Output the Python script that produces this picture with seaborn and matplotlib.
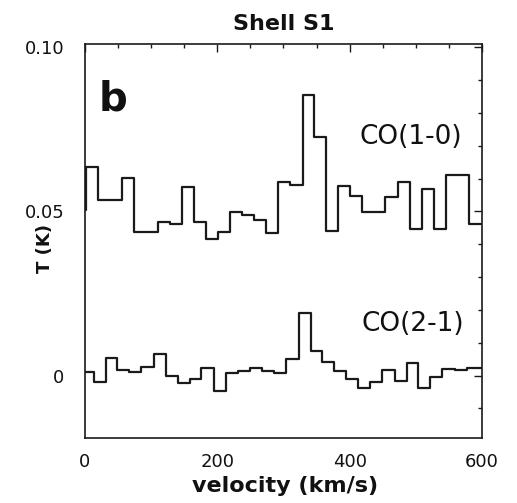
import matplotlib
matplotlib.use("Agg")
import matplotlib.pyplot as plt
import seaborn as sns
import pandas as pd
from matplotlib.ticker import MultipleLocator, FixedLocator

# ---- data ----
# CO(1-0): channel edges (km/s) and brightness temperature (K) per channel
co10_edges = [2, 20, 38, 56, 74, 92, 110, 128, 147, 165, 183, 201, 219, 237, 255,
              273, 291, 310, 329, 346, 364, 382, 400, 418, 436, 454, 473, 491,
              509, 527, 545, 563, 581, 599]
co10_T = [0.0635, 0.0534, 0.0534, 0.0601, 0.0437, 0.0437, 0.0467, 0.0463, 0.0574,
          0.0467, 0.0415, 0.0437, 0.0498, 0.0488, 0.0473, 0.0433, 0.0589, 0.0582,
          0.0854, 0.0727, 0.0442, 0.0579, 0.0546, 0.0498, 0.0498, 0.0544, 0.0589,
          0.0447, 0.0569, 0.0447, 0.0610, 0.0610, 0.0463]
co10_start_T = 0.0503

# CO(2-1)
co21_edges = [-6, 13, 31, 49, 67, 85, 104, 122, 140, 158, 176, 195, 213, 231, 249,
              267, 286, 304, 324, 342, 358, 377, 395, 413, 431, 449, 468, 486,
              504, 522, 540, 559, 577, 595, 613]
co21_T = [0.0012, -0.0020, 0.0055, 0.0017, 0.0010, 0.0025, 0.0066, 0.0000, -0.0023,
          -0.0010, 0.0023, -0.0046, 0.0007, 0.0015, 0.0023, 0.0015, 0.0007, 0.0051,
          0.0190, 0.0074, 0.0041, 0.0015, -0.0010, -0.0038, -0.0020, 0.0017,
          -0.0015, 0.0038, -0.0038, -0.0005, 0.0020, 0.0017, 0.0023, 0.0023]

x_ticks = [0, 200, 400, 600]
x_tick_labels = ["0", "200", "400", "600"]
y_ticks = [0, 0.05, 0.10]
y_tick_labels = ["0", "0.05", "0.10"]

# ---- build step tables ----
df10 = pd.DataFrame({
    "velocity": [co10_edges[0]] + co10_edges,
    "T": [co10_start_T] + co10_T + [co10_T[-1]],
})
df21 = pd.DataFrame({
    "velocity": co21_edges,
    "T": co21_T + [co21_T[-1]],
})

sns.set_theme(style="white")
plt.rcParams["font.family"] = ["DejaVu Sans"]

fig = plt.figure(figsize=(5.17, 5.03), dpi=100)
ax = fig.add_axes([0.1644, 0.1292, 0.7679, 0.7833])

line_color = "#1a1a1a"
sns.lineplot(data=df10, x="velocity", y="T", ax=ax, estimator=None, sort=False,
             drawstyle="steps-post", color=line_color, linewidth=1.6)
sns.lineplot(data=df21, x="velocity", y="T", ax=ax, estimator=None, sort=False,
             drawstyle="steps-post", color=line_color, linewidth=1.6)

ax.set_xlim(0, 600)
ax.set_ylim(-0.019, 0.101)

ax.xaxis.set_major_locator(FixedLocator(x_ticks))
ax.set_xticklabels(x_tick_labels)
ax.xaxis.set_minor_locator(MultipleLocator(50))
ax.yaxis.set_major_locator(FixedLocator(y_ticks))
ax.set_yticklabels(y_tick_labels)
ax.yaxis.set_minor_locator(MultipleLocator(0.01))

ax.tick_params(which="both", direction="in", top=True, right=True,
               color=line_color, width=1.0)
ax.tick_params(which="major", length=6, labelsize=13, labelcolor="#111111")
ax.tick_params(which="minor", length=3)
ax.tick_params(axis="x", which="major", pad=11)
ax.tick_params(axis="y", which="major", pad=15)

for s in ax.spines.values():
    s.set_color(line_color)
    s.set_linewidth(1.2)

ax.set_xlabel("velocity (km/s)", fontsize=16, fontweight="bold", color="#111111")
ax.xaxis.set_label_coords(0.505, -0.097)
ax.set_ylabel("T (K)", fontsize=13, fontweight="bold", color="#111111")
ax.yaxis.set_label_coords(-0.077, 0.48)
ax.set_title("Shell S1", fontsize=16, fontweight="bold", pad=10, color="#111111")

ax.text(42, 0.0841, "b", fontsize=29, fontweight="bold", ha="center", va="center",
        color="#111111")
ax.text(492, 0.0727, "CO(1-0)", fontsize=19, ha="center", va="center",
        color="#111111")
ax.text(496, 0.0157, "CO(2-1)", fontsize=19, ha="center", va="center",
        color="#111111")

fig.savefig("out.png", dpi=100)
